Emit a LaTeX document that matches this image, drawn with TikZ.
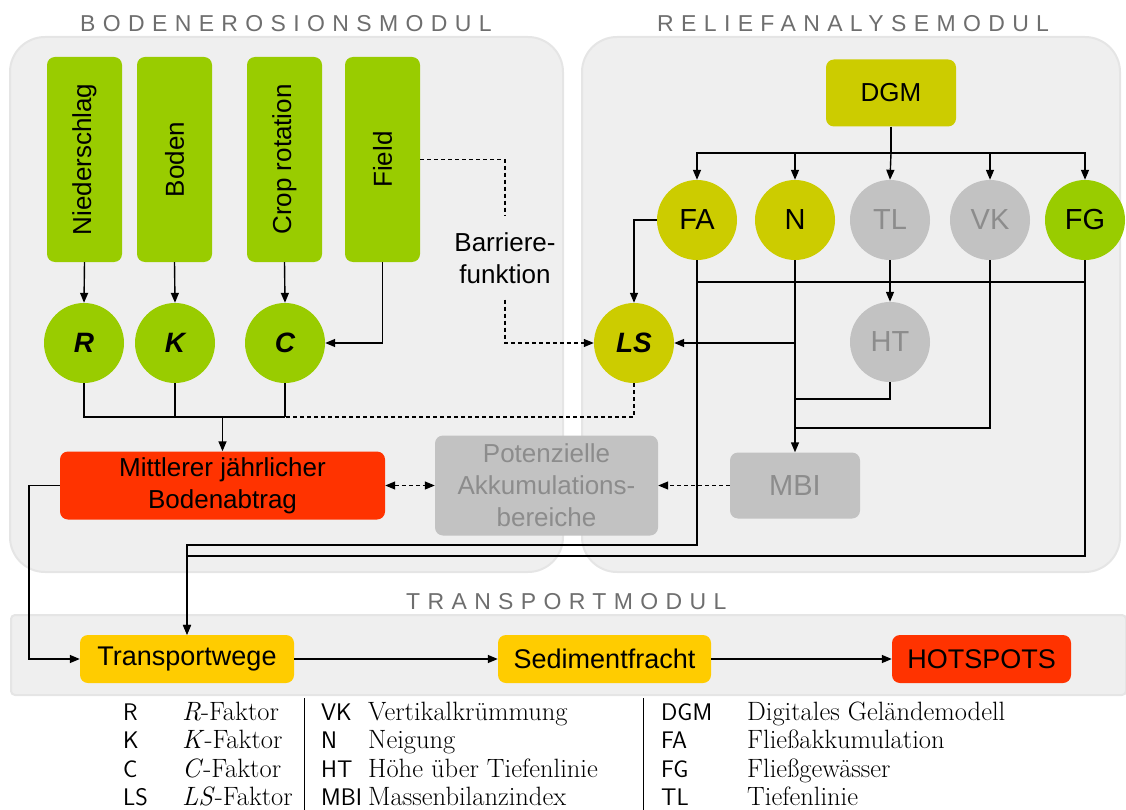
\documentclass[tikz,border=0pt]{standalone}
\usepackage{fontspec}
\usetikzlibrary{arrows.meta}
\newfontfamily\dsans{Liberation Sans}
\newfontfamily\tsans[LetterSpace=32]{Liberation Sans}
\definecolor{cLime}{HTML}{99CC00}
\definecolor{cOlive}{HTML}{CCCC00}
\definecolor{cGrayN}{HTML}{C2C2C2}
\definecolor{cGrayT}{HTML}{8C8C8C}
\definecolor{cRed}{HTML}{FF3300}
\definecolor{cAmber}{HTML}{FFCC00}
\definecolor{cPanel}{HTML}{EFEFEF}
\definecolor{cPanelEdge}{HTML}{E5E5E5}
\definecolor{cTitle}{HTML}{6E6E6E}
\tikzset{
  box/.style={rectangle, rounded corners=8pt, inner sep=0pt, align=center,
    font=\dsans\fontsize{26}{32}\selectfont},
  circ/.style={circle, minimum size=80pt, inner sep=0pt,
    font=\dsans\fontsize{29}{29}\selectfont},
  fac/.style={circ, fill=cLime, font=\dsans\bfseries\itshape\fontsize{28}{28}\selectfont},
  vlab/.style={rotate=90, inner sep=0pt, font=\dsans\fontsize{26}{26}\selectfont},
  ln/.style={line width=1.4pt, draw=black},
  arr/.style={ln, -{Triangle[length=10pt,width=8pt]}},
  dsh/.style={line width=1.2pt, dash pattern=on 4pt off 3pt},
  panel/.style={fill=cPanel, draw=cPanelEdge, line width=2pt},
  ttl/.style={anchor=west, inner sep=0pt, text=cTitle, font=\tsans\fontsize{23}{23}\selectfont},
  legsf/.style={anchor=base west, inner sep=0pt, font=\sffamily\fontsize{24}{30}\selectfont},
  legrm/.style={anchor=base west, inner sep=0pt, font=\rmfamily\fontsize{26.5}{30}\selectfont},
}
\begin{document}
\begin{tikzpicture}[x=1pt,y=-1pt]
\useasboundingbox (0,0) rectangle (1126,810);
% panels
\path[panel, rounded corners=35pt] (10,37) rectangle (563,572);
\path[panel, rounded corners=35pt] (582,37) rectangle (1120,572);
\path[panel, rounded corners=4pt] (11,615) rectangle (1126,695);
\node[ttl] (t1) at (80,24) {BODENEROSIONSMODUL};
\node[ttl] (t2) at (657,24) {RELIEFANALYSEMODUL};
\node[ttl] (t3) at (406,602) {TRANSPORTMODUL};

% Bodenerosionsmodul
\node[box, fill=cLime, minimum width=75pt, minimum height=205pt] (nied) at (84.5,159.5) {};
\node[box, fill=cLime, minimum width=75pt, minimum height=205pt] (boden) at (174.5,159.5) {};
\node[box, fill=cLime, minimum width=75pt, minimum height=205pt] (crop) at (284.5,159.5) {};
\node[box, fill=cLime, minimum width=75pt, minimum height=205pt] (field) at (382.5,159.5) {};
\node[vlab] (niedT) at (nied.center) {Niederschlag};
\node[vlab] (bodenT) at (boden.center) {Boden};
\node[vlab] (cropT) at (crop.center) {Crop rotation};
\node[vlab] (fieldT) at (field.center) {Field};
\node[fac] (R) at (84,343) {R};
\node[fac] (K) at (175,343) {K};
\node[fac] (C) at (285,343) {C};
\node[box, inner ysep=16pt] (barr) at (505,258) {Barriere-\\funktion};
\node[box, fill=cRed, minimum width=325pt, minimum height=68pt] (mit) at (222.5,485.5) {Mittlerer jährlicher\\Bodenabtrag};
\node[box, fill=cGrayN, text=cGrayT, minimum width=223pt, minimum height=100pt] (pot) at (546.5,485.5) {Potenzielle\\Akkumulations-\\bereiche};

% Reliefanalysemodul
\node[box, fill=cOlive, minimum width=130pt, minimum height=67pt] (DGM) at (891,93) {DGM};
\node[circ, fill=cOlive] (FA) at (697,220) {FA};
\node[circ, fill=cOlive] (N) at (795,220) {N};
\node[circ, fill=cGrayN, text=cGrayT] (TL) at (890,220) {TL};
\node[circ, fill=cGrayN, text=cGrayT] (VK) at (990,220) {VK};
\node[circ, fill=cLime] (FG) at (1085,220) {FG};
\node[fac, fill=cOlive] (LS) at (634,343) {LS};
\node[circ, fill=cGrayN, text=cGrayT] (HT) at (890,342) {HT};
\node[box, fill=cGrayN, text=cGrayT, minimum width=130pt, minimum height=66pt, font=\dsans\fontsize{29}{29}\selectfont] (MBI) at (795,485.5) {MBI};

% Transportmodul
\node[box, fill=cAmber, minimum width=214pt, minimum height=48pt, font=\dsans\fontsize{27}{27}\selectfont] (tw) at (187,659) {Transportwege};
\node[box, fill=cAmber, minimum width=213pt, minimum height=48pt, font=\dsans\fontsize{27}{27}\selectfont] (sf) at (604.5,659) {Sedimentfracht};
\node[box, fill=cRed, minimum width=179pt, minimum height=48pt, font=\dsans\fontsize{27}{27}\selectfont] (hs) at (981.5,659) {HOTSPOTS};

% connectors, Bodenerosionsmodul
\draw[arr] (nied.south) -- (R.north);
\draw[arr] (boden.south) -- (K.north);
\draw[arr] (crop.south) -- (C.north);
\draw[arr] (field.south) |- (C.east);
\draw[dsh] (field.east) -| (barr.north);
\draw[dsh, -{Triangle[length=10pt,width=8pt]}] (barr.south) |- (LS.west);
\draw[ln] (R.south) |- (C.south |- 0,417);
\draw[ln] (K.south) -- (K.south |- 0,417);
\draw[ln] (C.south) -- (C.south |- 0,417);
\draw[arr] (mit.north |- 0,417) -- (mit.north);
\draw[dsh] (LS.south) |- (C.south |- 0,417);
\draw[dsh, {Triangle[length=10pt,width=8pt]}-{Triangle[length=10pt,width=8pt]}] (mit.east) -- (pot.west);

% connectors, Reliefanalysemodul
\coordinate (br) at (DGM.south |- 0,153);
\draw[ln] (DGM.south) -- (br);
\draw[arr] (br) -- (TL.north);
\draw[arr] (br) -| (FA.north);
\draw[arr] (br) -| (N.north);
\draw[arr] (br) -| (VK.north);
\draw[arr] (br) -| (FG.north);
\draw[arr] (FA.west) -| (LS.north);
\draw[arr] (TL.south) -- (HT.north);
\draw[arr] (N.south) -- (MBI.north);
\draw[arr] (N.south |- LS.east) -- (LS.east);
\draw[ln] (HT.south) |- (N.south |- 0,399);
\draw[ln] (VK.south) |- (N.south |- 0,428);
\draw[ln] (FA.south |- 0,282) -- (FG.south |- 0,282);
\draw[arr] (FA.south) |- (tw.north |- 0,545) -- (tw.north);
\draw[arr] (FG.south) |- (tw.north |- 0,556) -- (tw.north);
\draw[dsh, -{Triangle[length=10pt,width=8pt]}] (MBI.west) -- (pot.east);

% connectors, Transportmodul
\draw[arr] (mit.west) -- ++(-31,0) |- (tw.west);
\draw[arr] (tw.east) -- (sf.west);
\draw[arr] (sf.east) -- (hs.west);

% legend
\draw[line width=0.8pt] (304,698) -- (304,810);
\draw[line width=0.8pt] (643,698) -- (643,810);
\foreach \ab/\tx [count=\i] in {R/{\textit{R}-Faktor}, K/{\textit{K}-Faktor}, C/{\textit{C}-Faktor}, LS/{\textit{LS}-Faktor}}{
  \node[legsf] (la\i) at (123,{720+(\i-1)*28.5}) {\ab};
  \node[legrm] (lb\i) at (182,{720+(\i-1)*28.5}) {\tx};
}
\foreach \ab/\tx [count=\i] in {VK/Vertikalkrümmung, N/Neigung, HT/Höhe über Tiefenlinie, MBI/Massenbilanzindex}{
  \node[legsf] (lc\i) at (321,{720+(\i-1)*28.5}) {\ab};
  \node[legrm] (ld\i) at (368,{720+(\i-1)*28.5}) {\tx};
}
\foreach \ab/\tx [count=\i] in {DGM/Digitales Geländemodell, FA/Fließakkumulation, FG/Fließgewässer, TL/Tiefenlinie}{
  \node[legsf] (le\i) at (661,{720+(\i-1)*28.5}) {\ab};
  \node[legrm] (lf\i) at (747,{720+(\i-1)*28.5}) {\tx};
}
\end{tikzpicture}
\end{document}
